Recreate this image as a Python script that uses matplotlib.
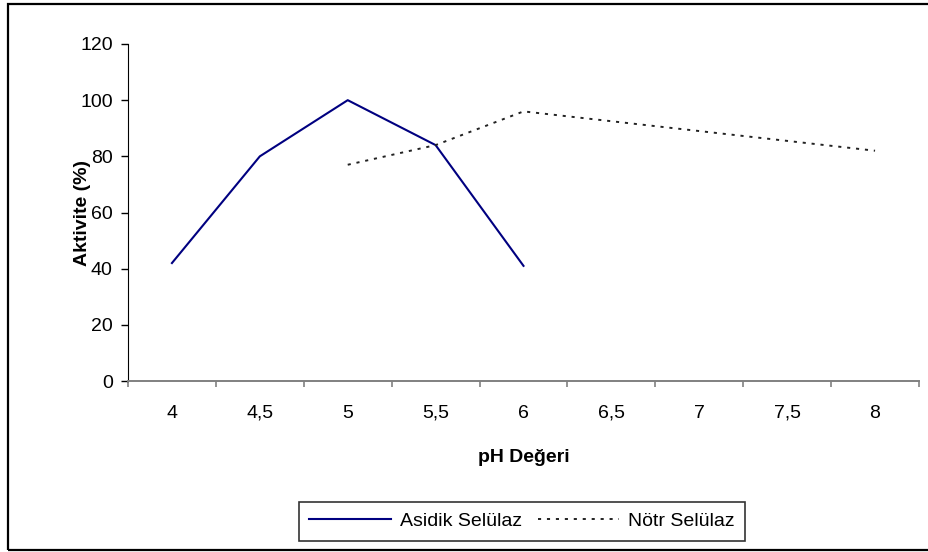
import matplotlib

matplotlib.use("Agg")
import matplotlib.pyplot as plt
from matplotlib.patches import Rectangle
import numpy as np

# Data
ph_labels = ["4", "4,5", "5", "5,5", "6", "6,5", "7", "7,5", "8"]
asidik = [42, 80, 100, 84, 41, np.nan, np.nan, np.nan, np.nan]
notr = [np.nan, np.nan, 77, 84, 96, 92.5, 89, 85.5, 82]
y_ticks = [0, 20, 40, 60, 80, 100, 120]

plt.rcParams["font.family"] = ["Liberation Sans", "DejaVu Sans"]
FS = 14

W, H = 929, 552
fig = plt.figure(figsize=(W / 100, H / 100), dpi=100)
fig.patch.set_facecolor("white")


def px(x0, y0, x1, y1):
    # pixel box (top-left origin) -> figure fraction [left, bottom, w, h]
    return [x0 / W, 1 - y1 / H, (x1 - x0) / W, (y1 - y0) / H]


ax = fig.add_axes(px(128, 44, 919, 381))
x = np.arange(len(ph_labels))

ax.plot(x, asidik, color="#000080", lw=1.5, label="Asidik Selülaz")
ax.plot(x, notr, color="#222222", lw=1.4, dashes=(1.6, 3.0), label="Nötr Selülaz")

ax.set_xlim(-0.5, len(ph_labels) - 0.5)
ax.set_ylim(0, 120)
ax.set_yticks(y_ticks)
ax.set_yticklabels([str(v) for v in y_ticks], fontsize=FS)
ax.set_xticks(x)
ax.set_xticklabels(ph_labels, fontsize=FS)
ax.set_xticks(np.arange(-0.5, len(ph_labels)), minor=True)
ax.tick_params(axis="x", which="major", length=0, pad=17)
ax.tick_params(axis="x", which="minor", length=4, color="#808080", width=1.2)
ax.tick_params(axis="y", length=5, width=1, pad=6)

for side in ["top", "right"]:
    ax.spines[side].set_visible(False)
ax.spines["left"].set_color("black")
ax.spines["left"].set_bounds(0, 120)
ax.spines["bottom"].set_color("#808080")
ax.spines["bottom"].set_linewidth(1.4)

ax.set_xlabel("pH Değeri", fontsize=FS, fontweight="bold")
ax.xaxis.set_label_coords(0.5, -0.228)
ax.xaxis.label.set_va("center")
ax.set_ylabel("Aktivite (%)", fontsize=FS, fontweight="bold")
ax.yaxis.set_label_coords(-0.058, 0.5)
ax.yaxis.label.set_va("center")

leg = fig.legend(
    loc="center",
    bbox_to_anchor=((297 + 747) / 2 / W, 1 - 521 / H),
    ncol=2,
    fontsize=FS,
    frameon=True,
    fancybox=False,
    edgecolor="black",
    handlelength=4.2,
    handletextpad=0.45,
    columnspacing=0.8,
    borderpad=0.55,
    borderaxespad=0,
)
leg.get_frame().set_linewidth(1.2)

# outer chart frame
fig.patches.append(
    Rectangle(
        (8 / W, 2 / H),
        (940 - 8) / W,
        (550 - 4) / H,
        transform=fig.transFigure,
        fill=False,
        edgecolor="black",
        linewidth=1.6,
    )
)

fig.savefig("out.png", dpi=100)
